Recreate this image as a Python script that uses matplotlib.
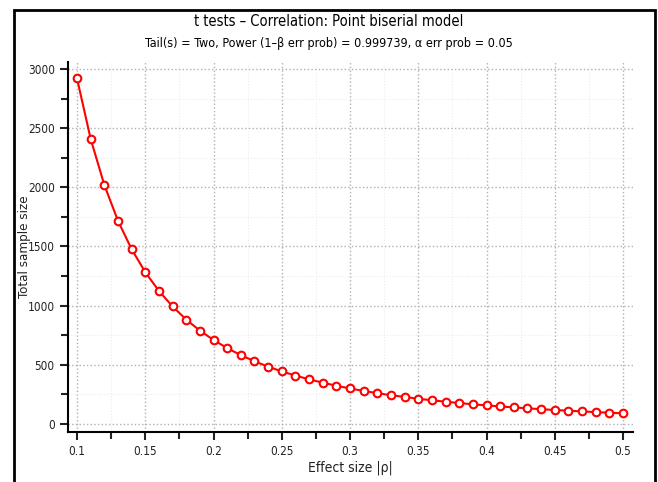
import matplotlib
matplotlib.use("Agg")
import matplotlib.pyplot as plt
from matplotlib.patches import Rectangle
from matplotlib.ticker import MultipleLocator

plt.rcParams['font.family'] = ['DejaVu Sans']
plt.rcParams['font.stretch'] = 'condensed'

# effect size |rho| and total sample size
effect_size = [0.10, 0.11, 0.12, 0.13, 0.14, 0.15, 0.16, 0.17, 0.18, 0.19,
               0.20, 0.21, 0.22, 0.23, 0.24, 0.25, 0.26, 0.27, 0.28, 0.29,
               0.30, 0.31, 0.32, 0.33, 0.34, 0.35, 0.36, 0.37, 0.38, 0.39,
               0.40, 0.41, 0.42, 0.43, 0.44, 0.45, 0.46, 0.47, 0.48, 0.49, 0.50]
sample_size = [2920, 2409, 2020, 1717, 1477, 1283, 1124, 993, 882, 789,
               710, 641, 582, 530, 484, 444, 409, 377, 349, 323,
               300, 279, 260, 243, 228, 213, 200, 188, 177, 166,
               157, 148, 140, 132, 125, 118, 112, 106, 100, 95, 90]

x_ticks = [0.1, 0.15, 0.2, 0.25, 0.3, 0.35, 0.4, 0.45, 0.5]
x_labels = ['0.1', '0.15', '0.2', '0.25', '0.3', '0.35', '0.4', '0.45', '0.5']
y_ticks = [0, 500, 1000, 1500, 2000, 2500, 3000]

fig = plt.figure(figsize=(6.58, 4.82), dpi=100)
ax = fig.add_axes([68 / 658, 1 - 432 / 482, 565 / 658, 370 / 482])

# outer frame
fig.patches.append(Rectangle((14 / 658, -0.05), 641 / 658, 1.05 - 10 / 482,
                             transform=fig.transFigure, fill=False,
                             edgecolor='black', linewidth=2))

ax.plot(effect_size, sample_size, color='#ff0000', linewidth=1.5, marker='o',
        markersize=5.5, markerfacecolor='white', markeredgecolor='#ff0000',
        markeredgewidth=1.5, zorder=3)

ax.set_xlim(0.0934, 0.5073)
ax.set_ylim(-68, 3059)
ax.set_xticks(x_ticks)
ax.set_xticklabels(x_labels)
ax.set_yticks(y_ticks)
ax.xaxis.set_minor_locator(MultipleLocator(0.025))
ax.yaxis.set_minor_locator(MultipleLocator(250))

ax.grid(True, which='major', color='#b0b0b0', linestyle=':', linewidth=1)
ax.grid(True, which='minor', color='#ececec', linestyle=':', linewidth=0.8)
ax.set_axisbelow(True)

for side in ['top', 'right']:
    ax.spines[side].set_visible(False)
for side in ['left', 'bottom']:
    ax.spines[side].set_linewidth(1.5)
ax.tick_params(which='both', direction='out', width=1.5, labelsize=8.5,
               colors='#222222')
ax.tick_params(which='major', length=6)
ax.tick_params(which='minor', length=5)

ax.set_xlabel('Effect size |ρ|', fontsize=10, color='#222222')
ax.set_ylabel('Total sample size', fontsize=9.5, color='#222222')
ax.yaxis.set_label_coords(-0.065, 0.5)
ax.xaxis.set_label_coords(0.5, -0.077)

fig.text(0.5, 1 - 22 / 482, 't tests – Correlation: Point biserial model',
         ha='center', va='center', fontsize=10.5)
fig.text(0.5, 1 - 43 / 482,
         'Tail(s) = Two, Power (1–β err prob) = 0.999739, α err prob = 0.05',
         ha='center', va='center', fontsize=9)

fig.savefig('out.png', dpi=100)
